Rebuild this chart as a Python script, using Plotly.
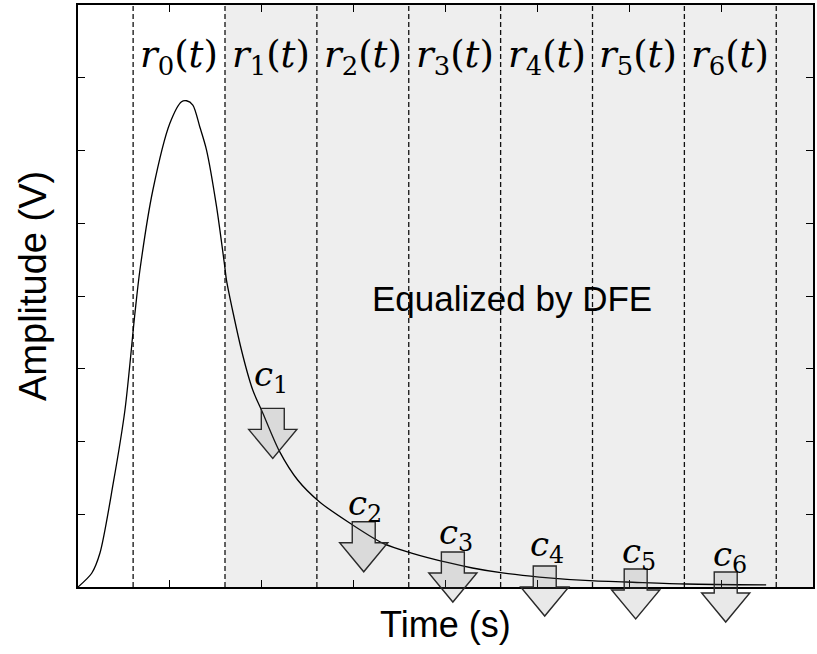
import plotly.graph_objects as go

# ---------------- data (axis units: x tick spacing = 1, y tick spacing = 1) ----------
curve_t = [0.0, 0.149, 0.239, 0.384, 0.511, 0.620, 0.674, 0.815, 1.0, 1.127, 1.182,
           1.25, 1.326, 1.399, 1.508, 1.598, 1.616, 1.779, 1.902, 2.011, 2.196, 2.391,
           2.63, 2.957, 3.315, 3.63, 4.043, 4.293, 4.62, 5.02, 5.62, 5.967, 6.62, 7.49]
curve_v = [0.0, 0.189, 0.467, 1.43, 2.433, 3.766, 4.357, 5.457, 6.375, 6.671, 6.684,
           6.625, 6.323, 6.006, 5.228, 4.398, 4.219, 3.258, 2.708, 2.392, 1.857, 1.471,
           1.169, 0.88, 0.604, 0.467, 0.33, 0.261, 0.193, 0.137, 0.083, 0.069, 0.041, 0.028]

slot_bounds = [0.6, 1.6, 2.6, 3.6, 4.6, 5.6, 6.6, 7.6]
slot_labels = ["<i>r</i><sub>%d</sub>(<i>t</i>)" % k for k in range(7)]
slot_label_y = 7.28

dfe_start = 1.6
dfe_text = "Equalized by DFE"
dfe_pos = (4.72, 3.97)

arrow_x = [2.12, 3.11, 4.08, 5.08, 6.07, 7.05]
arrow_top = [2.455, 0.897, 0.481, 0.289, 0.248, 0.206]
coef_labels = ["<i>c</i><sub>%d</sub>" % k for k in range(1, 7)]
coef_label_x = [2.1, 3.12, 4.11, 5.11, 6.11, 7.1]
coef_label_y = [2.888, 1.127, 0.715, 0.55, 0.467, 0.413]

x_title = "Time (s)"
y_title = "Amplitude (V)"

x_range = [0, 8]
y_range = [0, 8]
x_ticks = list(range(0, 9))
y_ticks = list(range(0, 9))

# ---------------- styles -------------------------------------------------------------
SHAFT_HW = 0.125   # half width of arrow shaft (x units)
HEAD_HW = 0.262    # half width of arrow head (x units)
SHAFT_LEN = 0.289  # y units
HEAD_LEN = 0.399   # y units
MATH_FONT = "DejaVu Serif"
SANS = "Liberation Sans"

def px(x):
    return (x - x_range[0]) / (x_range[1] - x_range[0])

def py(y):
    return (y - y_range[0]) / (y_range[1] - y_range[0])

fig = go.Figure()

fig.add_trace(go.Scatter(x=curve_t, y=curve_v, mode="lines",
                         line=dict(color="black", width=1.3, shape="spline", smoothing=0.8),
                         hoverinfo="skip", showlegend=False))

shapes = []
shapes.append(dict(type="rect", xref="x", yref="paper", x0=dfe_start, x1=x_range[1],
                   y0=0, y1=1, fillcolor="#eeeeee", line=dict(width=0), layer="below"))
for b in slot_bounds:
    shapes.append(dict(type="line", xref="x", yref="paper", x0=b, x1=b, y0=0, y1=1,
                       line=dict(color="#111111", width=1.3, dash="5px,3px"), layer="below"))

for xc, yt in zip(arrow_x, arrow_top):
    ys = yt - SHAFT_LEN
    ytip = ys - HEAD_LEN
    pts = [(xc - SHAFT_HW, yt), (xc + SHAFT_HW, yt), (xc + SHAFT_HW, ys),
           (xc + HEAD_HW, ys), (xc, ytip), (xc - HEAD_HW, ys), (xc - SHAFT_HW, ys)]
    path = "M " + " L ".join("%.5f,%.5f" % (px(a), py(b)) for a, b in pts) + " Z"
    shapes.append(dict(type="path", xref="paper", yref="paper", path=path,
                       fillcolor="rgba(120,120,120,0.16)",
                       line=dict(color="#2a2a2a", width=1.4), layer="above"))

annotations = []
for k, lab in enumerate(slot_labels):
    xc = (slot_bounds[k] + slot_bounds[k + 1]) / 2 if k + 1 < len(slot_bounds) else slot_bounds[k] + 0.5
    annotations.append(dict(x=xc, y=slot_label_y, xref="x", yref="y", text=lab,
                            showarrow=False, font=dict(family=MATH_FONT, size=37, color="black"),
                            xanchor="center", yanchor="middle"))
for lab, lx, ly in zip(coef_labels, coef_label_x, coef_label_y):
    annotations.append(dict(x=lx, y=ly, xref="x", yref="y", text=lab, showarrow=False,
                            font=dict(family=MATH_FONT, size=34, color="black"),
                            xanchor="center", yanchor="middle"))
annotations.append(dict(x=dfe_pos[0], y=dfe_pos[1], xref="x", yref="y", text=dfe_text,
                        showarrow=False, font=dict(family=SANS, size=35, color="black"),
                        xanchor="center", yanchor="middle"))
annotations.append(dict(x=0.5, y=0, xref="paper", yref="paper", text=x_title,
                        showarrow=False, font=dict(family=SANS, size=36, color="black"),
                        xanchor="center", yanchor="middle", yshift=-37))
annotations.append(dict(x=0, y=0.5, xref="paper", yref="paper", text=y_title,
                        showarrow=False, font=dict(family=SANS, size=38, color="black"),
                        textangle=-90, xanchor="center", yanchor="middle", xshift=-45, yshift=10))

axis_common = dict(showgrid=False, zeroline=False, showline=True, linecolor="black",
                   linewidth=2, mirror="ticks", ticks="inside", ticklen=7, tickwidth=1,
                   tickcolor="black", showticklabels=False, automargin=False)

fig.update_layout(
    width=817, height=654,
    margin=dict(l=78, r=4, t=5, b=67, autoexpand=False),
    paper_bgcolor="white", plot_bgcolor="white",
    shapes=shapes, annotations=annotations,
    xaxis=dict(range=x_range, tickvals=x_ticks, **axis_common),
    yaxis=dict(range=y_range, tickvals=y_ticks, **axis_common),
)

fig.write_html("out.html", config={"displayModeBar": False},
               post_script="document.body.style.margin='0px';document.body.style.padding='0px';")
